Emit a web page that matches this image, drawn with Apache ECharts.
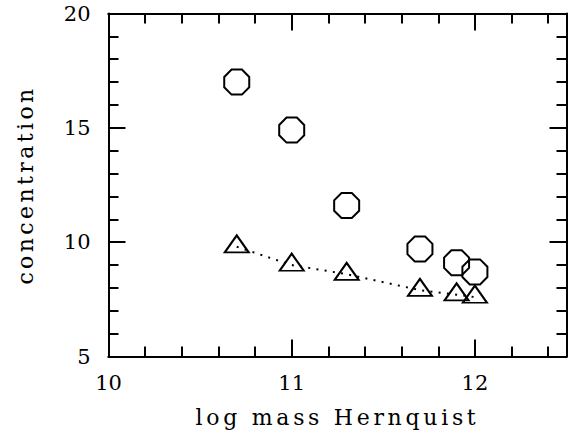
<!DOCTYPE html>
<html>
<head>
<meta charset="utf-8">
<script src="https://cdn.jsdelivr.net/npm/echarts@6/dist/echarts.min.js"></script>
<style>
html,body{margin:0;padding:0;background:#fff;}
#chart{width:579px;height:436px;}
</style>
</head>
<body>
<div id="chart"></div>
<script>
// ---- data ----
const logMass = [10.7, 11.0, 11.3, 11.7, 11.9, 12.0];
const concOctagon = [17.0, 14.9, 11.6, 9.7, 9.1, 8.7];
const concTriangle = [9.8, 9.0, 8.6, 7.9, 7.7, 7.6];
const xTitle = 'log mass Hernquist';
const yTitle = 'concentration';

const FONT = 'DejaVu Serif';
const octagonPath = 'path://M29.29,0L70.71,0L100,29.29L100,70.71L70.71,100L29.29,100L0,70.71L0,29.29Z';
const lineSt = {color: '#000', width: 2};

function xAx(pos, interval, len, labels, name) {
  return {
    type: 'value', position: pos, min: 10, max: 12.5, interval: interval,
    axisLine: {show: true, lineStyle: lineSt},
    axisTick: {show: true, inside: true, length: len, lineStyle: lineSt},
    splitLine: {show: false},
    axisLabel: labels ? {
      show: true, margin: 16, color: '#000', fontFamily: FONT, fontSize: 21,
      formatter: v => (Math.abs(v - Math.round(v)) < 1e-9 ? String(Math.round(v)) : '')
    } : {show: false},
    name: name || '', nameLocation: 'middle', nameGap: 50,
    nameTextStyle: {color: '#000', fontFamily: FONT, fontSize: 22}
  };
}
function yAx(pos, labels, name) {
  return {
    type: 'value', position: pos, min: 5, max: 20, interval: 5,
    axisLine: {show: true, lineStyle: lineSt},
    axisTick: {show: true, inside: true, length: 17, lineStyle: lineSt},
    minorTick: {show: true, splitNumber: 5, length: 10, lineStyle: lineSt},
    splitLine: {show: false}, minorSplitLine: {show: false},
    axisLabel: labels ? {show: true, margin: 18, color: '#000', fontFamily: FONT, fontSize: 21} : {show: false},
    name: name || '', nameLocation: 'middle', nameGap: 72, nameRotate: 90,
    nameTextStyle: {color: '#000', fontFamily: FONT, fontSize: 22}
  };
}

const chart = echarts.init(document.getElementById('chart'), null, {renderer: 'svg'});
chart.setOption({
  animation: false,
  backgroundColor: '#fff',
  grid: {left: 108.5, right: 12.5, top: 13.5, bottom: 79.5, containLabel: false},
  xAxis: [
    xAx('bottom', 1, 17, true, xTitle),
    xAx('bottom', 0.2, 10, false),
    xAx('top', 1, 17, false),
    xAx('top', 0.2, 10, false)
  ],
  yAxis: [
    yAx('left', true, yTitle),
    yAx('right', false)
  ],
  series: [
    {
      type: 'line', xAxisIndex: 0, yAxisIndex: 0,
      data: logMass.map((x, i) => [x, concTriangle[i]]),
      showSymbol: false, symbol: 'none',
      lineStyle: {color: '#000', width: 2, type: [2, 6.3]},
      z: 2
    },
    {
      type: 'scatter', xAxisIndex: 0, yAxisIndex: 0,
      data: logMass.map((x, i) => [x, concTriangle[i]]),
      symbol: 'triangle', symbolSize: [24, 17], symbolOffset: [0, -2.8],
      itemStyle: {color: 'none', borderColor: '#000', borderWidth: 2, opacity: 1},
      z: 3
    },
    {
      type: 'scatter', xAxisIndex: 0, yAxisIndex: 0,
      data: logMass.map((x, i) => [x, concOctagon[i]]),
      symbol: octagonPath, symbolSize: 25,
      itemStyle: {color: 'none', borderColor: '#000', borderWidth: 2, opacity: 1},
      z: 3
    }
  ]
});

function spaceTitles() {
  document.querySelectorAll('#chart text').forEach(t => {
    const s = t.textContent;
    if (s === yTitle) t.setAttribute('letter-spacing', '3.4');
    if (s === xTitle) t.setAttribute('letter-spacing', '3.7');
  });
}
spaceTitles();
chart.on('finished', spaceTitles);
</script>
</body>
</html>
